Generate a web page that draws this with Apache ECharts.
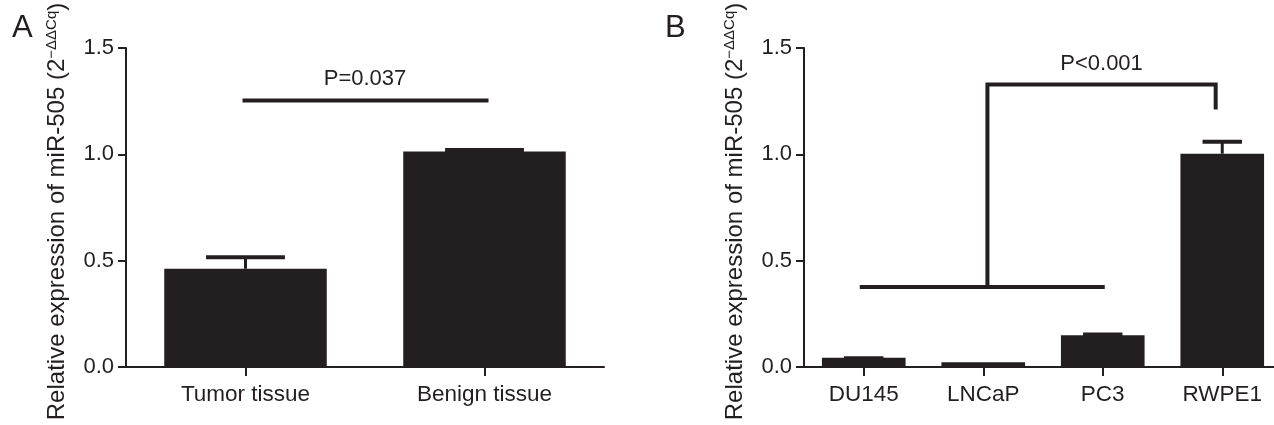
<!DOCTYPE html>
<html>
<head>
<meta charset="utf-8">
<script src="https://cdn.jsdelivr.net/npm/echarts@6/dist/echarts.min.js"></script>
<style>
  html, body { margin: 0; padding: 0; background: #fff; }
  #main { width: 1274px; height: 425px; }
</style>
</head>
<body>
<div id="main"></div>
<script>
// panel A: tissue
var tissueCats = ['Tumor tissue', 'Benign tissue'];
var tissueMean = [0.462, 1.013];
var tissueUpper = [0.525, 1.030];

// panel B: cell lines
var cellCats = ['DU145', 'LNCaP', 'PC3', 'RWPE1'];
var cellMean = [0.044, 0.022, 0.149, 1.003];
var cellUpper = [0.050, 0.022, 0.162, 1.069];

var yTicks = [0, 0.5, 1.0, 1.5];

// significance annotations
var sigA = { text: 'P=0.037', lineY: 1.253, textY: 1.355 };
var sigB = { text: 'P<0.001', groupY: 0.376, topY: 1.328, dropY: 1.211, textY: 1.425 };

var ink = '#231f20';
var font = 'Liberation Sans, Arial, Helvetica, sans-serif';

// error bar: stem from mean up to upper, cap top edge sits on upper
function errorBars(params, api) {
  var x = api.value(0);
  var top = api.coord([x, api.value(1)]);
  var up = api.coord([x, api.value(2)]);
  if (up[1] >= top[1]) return null;
  var half = api.size([1, 0])[0] * 0.165;
  return {
    type: 'group',
    children: [
      { type: 'line', shape: { x1: top[0], y1: top[1], x2: up[0], y2: up[1] + 2 },
        style: { stroke: ink, lineWidth: 3 } },
      { type: 'line', shape: { x1: up[0] - half, y1: up[1] + 2, x2: up[0] + half, y2: up[1] + 2 },
        style: { stroke: ink, lineWidth: 4 } }
    ]
  };
}

function sigLineA(params, api) {
  var a = api.coord([0, sigA.lineY]);
  var b = api.coord([1, sigA.lineY]);
  var t = api.coord([0, sigA.textY]);
  return {
    type: 'group',
    children: [
      { type: 'line', shape: { x1: a[0] - 3, y1: a[1], x2: b[0] + 4, y2: b[1] },
        style: { stroke: ink, lineWidth: 4 } },
      { type: 'text', x: (a[0] + b[0]) / 2, y: t[1],
        style: { text: sigA.text, fill: ink, font: '22px ' + font, align: 'center', verticalAlign: 'middle' } }
    ]
  };
}

function sigLineB(params, api) {
  var band = api.size([1, 0])[0];
  var g0 = api.coord([0, sigB.groupY]);
  var g2 = api.coord([2, sigB.groupY]);
  var stem = api.coord([1, sigB.topY]);
  var drop = api.coord([3, sigB.dropY]);
  var sx = stem[0] + band * 0.035;
  var dx = drop[0] - band * 0.055;
  var ty = api.coord([0, sigB.textY])[1];
  return {
    type: 'group',
    children: [
      { type: 'line', shape: { x1: g0[0] - 4, y1: g0[1], x2: g2[0] + 2, y2: g2[1] },
        style: { stroke: ink, lineWidth: 4 } },
      { type: 'polyline', shape: { points: [[sx, g0[1]], [sx, stem[1]], [dx, stem[1]], [dx, drop[1]]] },
        style: { stroke: ink, lineWidth: 4, fill: null, lineJoin: 'miter' } },
      { type: 'text', x: (sx + dx) / 2, y: ty,
        style: { text: sigB.text, fill: ink, font: '22px ' + font, align: 'center', verticalAlign: 'middle' } }
    ]
  };
}

function yAxisDef(idx) {
  return {
    gridIndex: idx,
    type: 'value',
    min: yTicks[0],
    max: yTicks[yTicks.length - 1],
    interval: 0.5,
    name: '{a|Relative expression of miR-505 (2}{b|\u2212\u0394\u0394Cq}{a|)}',
    nameLocation: 'middle',
    nameRotate: 90,
    nameGap: 56,
    nameTextStyle: {
      lineHeight: 26,
      padding: [0, 8, 0, 0],
      rich: {
        a: { fontSize: 24, fontFamily: font, color: ink, lineHeight: 26 },
        b: { fontSize: 15, fontFamily: font, color: ink, verticalAlign: 'top', lineHeight: 15 }
      }
    },
    splitLine: { show: false },
    axisLine: { show: true, lineStyle: { color: ink, width: 2 } },
    axisTick: { show: true, length: 8, lineStyle: { color: ink, width: 2 } },
    axisLabel: { fontSize: 22, fontFamily: font, color: ink, margin: 12,
      formatter: function (v) { return v.toFixed(1); } }
  };
}

function xAxisDef(idx, cats) {
  return {
    gridIndex: idx,
    type: 'category',
    data: cats,
    axisLine: { show: true, lineStyle: { color: ink, width: 2 } },
    axisTick: { show: true, alignWithLabel: true, length: 9, lineStyle: { color: ink, width: 2 } },
    axisLabel: { fontSize: 22.5, fontFamily: font, color: ink, margin: 16 }
  };
}

var myChart = echarts.init(document.getElementById('main'));
var option = {
  backgroundColor: '#fff',
  animation: false,
  title: [
    { text: 'A', left: 12, top: 13, padding: 0,
      textStyle: { fontSize: 31, fontWeight: 'normal', color: ink, fontFamily: font } },
    { text: 'B', left: 665, top: 13, padding: 0,
      textStyle: { fontSize: 31, fontWeight: 'normal', color: ink, fontFamily: font } }
  ],
  grid: [
    { left: 126, top: 48, width: 478, height: 319, outerBoundsMode: 'none' },
    { left: 804, top: 48, width: 478, height: 319, outerBoundsMode: 'none' }
  ],
  xAxis: [xAxisDef(0, tissueCats), xAxisDef(1, cellCats)],
  yAxis: [yAxisDef(0), yAxisDef(1)],
  series: [
    { type: 'bar', xAxisIndex: 0, yAxisIndex: 0, data: tissueMean, barWidth: '68%',
      itemStyle: { color: ink } },
    { type: 'custom', xAxisIndex: 0, yAxisIndex: 0, renderItem: errorBars, z: 3,
      encode: { x: 0, y: [1, 2] },
      data: tissueCats.map(function (c, i) { return [i, tissueMean[i], tissueUpper[i]]; }) },
    { type: 'custom', xAxisIndex: 0, yAxisIndex: 0, renderItem: sigLineA, z: 3,
      encode: { x: 0, y: 1 }, data: [[0, sigA.lineY]] },
    { type: 'bar', xAxisIndex: 1, yAxisIndex: 1, data: cellMean, barWidth: '70%',
      itemStyle: { color: ink } },
    { type: 'custom', xAxisIndex: 1, yAxisIndex: 1, renderItem: errorBars, z: 3,
      encode: { x: 0, y: [1, 2] },
      data: cellCats.map(function (c, i) { return [i, cellMean[i], cellUpper[i]]; }) },
    { type: 'custom', xAxisIndex: 1, yAxisIndex: 1, renderItem: sigLineB, z: 3,
      encode: { x: 0, y: 1 }, data: [[0, sigB.topY]] }
  ]
};
myChart.setOption(option);
</script>
</body>
</html>
